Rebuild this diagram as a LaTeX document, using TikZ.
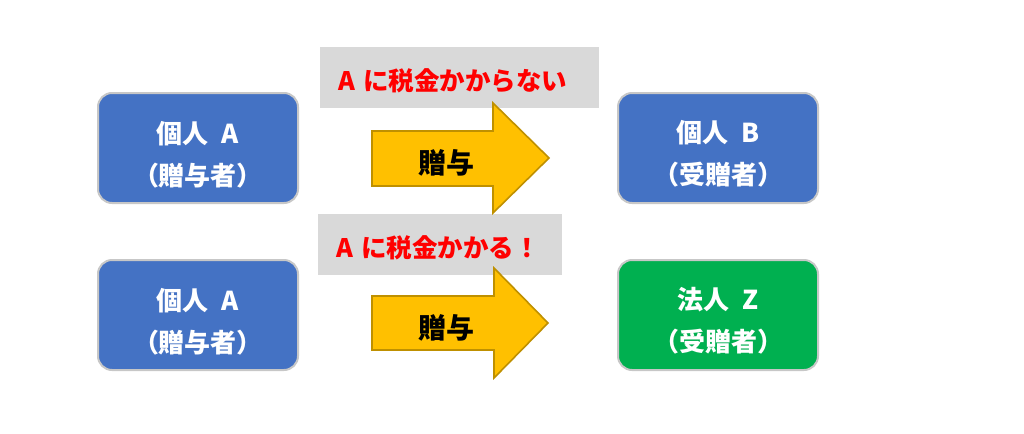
\documentclass[tikz,border=0pt]{standalone}
\usepackage{fontspec}
\setmainfont{Noto Sans CJK JP}
\definecolor{boxblue}{HTML}{4472C4}
\definecolor{boxgreen}{HTML}{00B050}
\definecolor{notegray}{HTML}{D9D9D9}
\definecolor{giftgold}{HTML}{FFC000}
\definecolor{giftedge}{HTML}{BF9000}
\tikzset{
  party/.style={draw=black!22, line width=1pt, rounded corners=7pt,
    minimum width=100pt, minimum height=55pt},
  partytext/.style={text=white, align=center,
    font=\bfseries\fontsize{13}{21}\selectfont},
  note/.style={fill=notegray, text=red, inner xsep=9pt, minimum height=30.5pt,
    text height=13pt, text depth=0pt, align=left,
    font=\bfseries\fontsize{12.75}{15}\selectfont},
  gift/.style={fill=giftgold, draw=giftedge, line width=0.8pt, line join=miter},
  giftlabel/.style={font=\bfseries\fontsize{14}{15}\selectfont}
}

\begin{document}
\begin{tikzpicture}[x=0.5pt, y=-0.5pt]
  \useasboundingbox (0,0) rectangle (1024,434);

  % the tax notes
  \node[note, text width=121.5pt] (notefree) at (459.5,77.5) {A に税金かからない};
  \node[note, text width=104pt] (notetax) at (440,244) {A に税金かかる！};

  % gift arrows
  \draw[gift] (372,131) -- (493,131) -- (493,103) -- (549,158)
    -- (493,213) -- (493,186) -- (372,186) -- cycle;
  \node[giftlabel] (gift1) at (446,163) {贈与};
  \draw[gift] (372,296) -- (494,296) -- (494,268) -- (548,323)
    -- (494,378) -- (494,350) -- (372,350) -- cycle;
  \node[giftlabel] (gift2) at (446,328) {贈与};

  % givers and receivers
  \node[party, fill=boxblue] (giverA) at (198,148) {};
  \node[partytext] (giverAtext) at ([yshift=-3.5pt]giverA) {個人\hspace{.5em}A\\（贈与者）};
  \node[party, fill=boxblue] (takerB) at (718,148) {};
  \node[partytext] (takerBtext) at ([yshift=-3pt]takerB) {個人\hspace{.5em}B\\（受贈者）};
  \node[party, fill=boxblue] (giverA2) at (198,315) {};
  \node[partytext] (giverA2text) at ([yshift=-3.5pt]giverA2) {個人\hspace{.5em}A\\（贈与者）};
  \node[party, fill=boxgreen] (takerZ) at (718,315) {};
  \node[partytext] (takerZtext) at ([yshift=-3pt]takerZ) {法人\hspace{.5em}Z\\（受贈者）};
\end{tikzpicture}
\end{document}
